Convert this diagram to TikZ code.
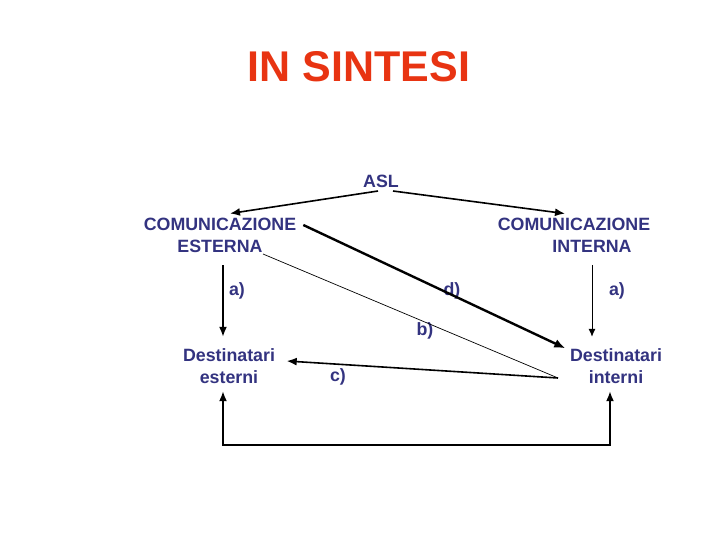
\documentclass[tikz,border=0pt]{standalone}
\usepackage{fontspec}
\setmainfont{Liberation Sans}
\usetikzlibrary{arrows.meta}
\definecolor{navy}{RGB}{51,51,128}
\definecolor{titlered}{RGB}{232,52,18}
\tikzstyle{lbl}=[text=navy, font=\bfseries\fontsize{17.8}{22}\selectfont, align=center, inner sep=0pt]
\tikzstyle{arr}=[-{Latex[length=10pt,width=8pt]}, line width=1.6pt]
\tikzstyle{thinarr}=[-{Latex[length=8pt,width=7pt]}, line width=0.9pt]

\begin{document}
\begin{tikzpicture}[x=1pt, y=-1pt]
                \useasboundingbox (0,0) rectangle (720,540);
                \node[text=titlered, font=\bfseries\fontsize{43}{50}\selectfont, inner sep=0pt] (title) at (359,67) {IN SINTESI};
                \node[lbl] (asl) at (381,181) {ASL};
                \node[lbl] (est) at (220,235) {COMUNICAZIONE\\ESTERNA};
                \node[lbl] (int) at (574,235) {COMUNICAZIONE\\\hspace*{36pt}INTERNA};
                \node[lbl] (dest) at (229,366) {Destinatari\\esterni};
                \node[lbl] (dint) at (616,366) {Destinatari\\interni};
                \node[lbl] (ea) at (237,291) {a)};
                \node[lbl] (d) at (452,291) {d)};
                \node[lbl] (ia) at (617,291) {a)};
                \node[lbl] (b) at (425,331) {b)};
                \node[lbl] (c) at (338,377) {c)};
                \coordinate (meet) at (558,378);
                \draw[arr]  ([shift={(-3pt,-3.5pt)}]asl.south) -- ([shift={(10pt,4pt)}]est.north);
                \draw[arr]  ([shift={(12pt,-3.5pt)}]asl.south) -- ([shift={(-9pt,4pt)}]int.north);
                \draw[-{Latex[length=11pt,width=9pt]}, line width=2.4pt]
                    ([shift={(7pt,-7.5pt)}]est.north east) -- ([xshift=-4.5pt]dint.north west);
                \draw[line width=0.7pt] ([shift={(43pt,-1.5pt)}]est.south) -- (meet);
                \draw[arr]  (meet) -- ([shift={(11.5pt,5pt)}]dest.east);
                \draw[arr]  ([shift={(3pt,-12.5pt)}]est.south) -- ([shift={(-6pt,11.5pt)}]dest.north);
                \draw[thinarr] ([shift={(18pt,-12.5pt)}]int.south) -- ([shift={(-24pt,11.5pt)}]dint.north);
                \draw[{Latex[length=10pt,width=8pt]}-{Latex[length=10pt,width=8pt]}, line width=1.6pt]
                    ([shift={(-6pt,-7.5pt)}]dest.south) -- ++(0,54) -| ([shift={(-6pt,-7.5pt)}]dint.south);
            \end{tikzpicture}
\end{document}
